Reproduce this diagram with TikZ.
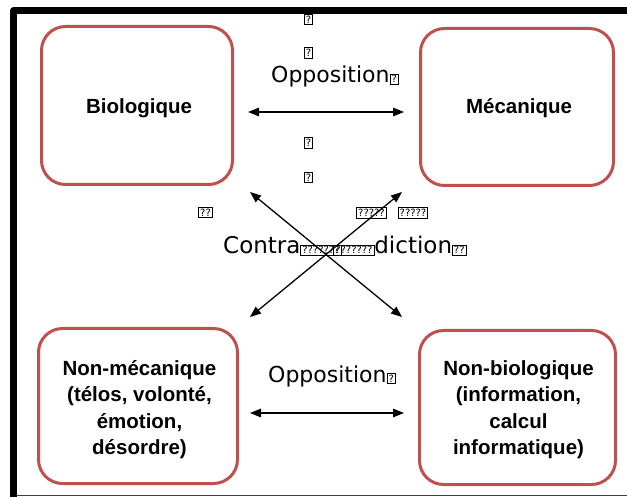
\documentclass[tikz,border=0pt]{standalone}
\usepackage{fontspec}
\setmainfont{DejaVu Sans}
\newfontfamily\arialfont{Liberation Sans}
\usetikzlibrary{arrows.meta}
\definecolor{boxred}{RGB}{192,80,77}
\newcommand\tf[1]{{\fboxsep=1.2pt\fboxrule=0.7pt\fbox{\fontsize{10}{10}\selectfont #1}}}
\begin{document}
\begin{tikzpicture}[x=1pt,y=-1pt,
  conbox/.style={draw=boxred, line width=3pt, rounded corners=24pt, inner sep=0pt},
  boxtext/.style={font=\arialfont\bfseries\fontsize{20.5}{26.5}\selectfont, align=center, inner sep=0pt},
  lbl/.style={font=\fontsize{22}{26}\selectfont, inner sep=0pt},
  tofu/.style={inner sep=0pt},
  dbl/.style={{Triangle[length=11pt,width=8.5pt]}-{Triangle[length=11pt,width=8.5pt]}, line width=1.3pt}
]
\useasboundingbox (0,0) rectangle (627,497);
\fill[white] (0,0) rectangle (627,497);
% frame
\draw[line width=7pt, line join=round] (13.5,497) -- (13.5,11) -- (627,11);
\draw[line width=1pt, black!75] (17,495) -- (627,495);
% boxes
\node[conbox, minimum width=191pt, minimum height=158pt] (bio) at (137,105.5) {};
\node[conbox, minimum width=193pt, minimum height=157pt] (mec) at (517,107) {};
\node[conbox, minimum width=199pt, minimum height=155pt] (nmec) at (138,406) {};
\node[conbox, minimum width=196pt, minimum height=154pt] (nbio) at (517.5,407.5) {};
% box texts
\node[boxtext] (biot) at (139,108) {Biologique};
\node[boxtext] (mect) at (519,108) {Mécanique};
\node[boxtext] (nmect) at (139.5,409.5) {Non-mécanique\\(télos, volonté,\\émotion,\\désordre)};
\node[boxtext] (nbiot) at (518.5,409.5) {Non-biologique\\(information,\\calcul\\informatique)};
% labels
\node[tofu] (t1) at (308.5,19.5) {\tf{?}};
\node[tofu] (t2) at (308.5,53) {\tf{?}};
\node[lbl, anchor=base west] (opptop) at (271,83) {Opposition\tf{?}};
\node[tofu] (t3) at (308.5,143) {\tf{?}};
\node[tofu] (t4) at (308.5,177.5) {\tf{?}};
\node[tofu] (t5) at (205.5,212.5) {\tf{??}};
\node[tofu] (t6) at (371.5,213) {\tf{?????}};
\node[tofu] (t7) at (413,213) {\tf{?????}};
\node[lbl, font=\fontsize{23}{27}\selectfont, anchor=base west] (contra) at (223,254) {Contra\tf{???????}\kern-8pt\tf{???????}diction\tf{??}};
\node[lbl, anchor=base west] (oppbot) at (268,382) {Opposition\tf{?}};
% connectors
\coordinate (h1a) at (248,112);
\coordinate (h1b) at (404,112);
\coordinate (h2a) at (250,413);
\coordinate (h2b) at (404,413);
\coordinate (c1a) at (250,192);
\coordinate (c1b) at (402,317);
\coordinate (c2a) at (402,192);
\coordinate (c2b) at (250,317);
\draw[dbl] (h1a) -- (h1b);
\draw[dbl] (h2a) -- (h2b);
\draw[dbl] (c1a) -- (c1b);
\draw[dbl] (c2a) -- (c2b);
\end{tikzpicture}
\end{document}
